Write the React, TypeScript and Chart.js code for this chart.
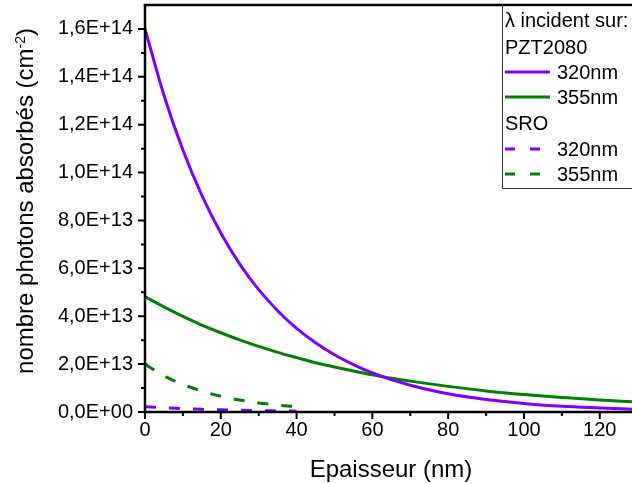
import React, { useEffect, useRef } from "react";
import { Chart, registerables } from "chart.js";

Chart.register(...registerables);

// ---- data ----
const pztThickness = [0, 5, 10, 15, 20, 25, 30, 35, 40, 45, 50, 55, 60, 65, 70, 80, 90, 100, 110, 120, 128.5];
const pzt320 = [1.6e14, 1.323e14, 1.094e14, 9.05e13, 7.48e13, 6.18e13, 5.11e13, 4.23e13, 3.49e13, 2.89e13, 2.39e13, 1.98e13, 1.63e13, 1.35e13, 1.12e13, 7.6e12, 5.2e12, 3.6e12, 2.4e12, 1.7e12, 1.2e12];
const pzt355 = [4.82e13, 4.39e13, 3.99e13, 3.63e13, 3.31e13, 3.01e13, 2.74e13, 2.49e13, 2.27e13, 2.06e13, 1.88e13, 1.71e13, 1.55e13, 1.41e13, 1.29e13, 1.07e13, 8.8e12, 7.3e12, 6.1e12, 5.0e12, 4.3e12];
const sroThickness = [0, 5, 10, 15, 20, 25, 30, 35, 40];
const sro320 = [2.2e12, 1.75e12, 1.4e12, 1.1e12, 0.9e12, 0.7e12, 0.55e12, 0.45e12, 0.35e12];
const sro355 = [2.0e13, 1.51e13, 1.15e13, 8.7e12, 6.6e12, 5.0e12, 3.8e12, 2.9e12, 2.2e12];

const xTickValues = [0, 20, 40, 60, 80, 100, 120];
const xMinorValues = [10, 30, 50, 70, 90, 110];
const yTickValues = [0, 2e13, 4e13, 6e13, 8e13, 1e14, 1.2e14, 1.4e14, 1.6e14];
const yMinorValues = [1e13, 3e13, 5e13, 7e13, 9e13, 1.1e14, 1.3e14, 1.5e14];

const legendHeader = "λ incident sur:";
const legendGroups = ["PZT2080", "SRO"];
const legendLabels = ["320nm", "355nm"];
const xTitle = "Epaisseur (nm)";
const yTitleMain = "nombre photons absorbés (cm";
const yTitleSup = "-2";
const yTitleEnd = ")";

const X_MIN = 0;
const X_MAX = 128.5;
const Y_MIN = 0;
const Y_MAX = 1.7e14;

const PURPLE = "#8000ff";
const GREEN = "#008000";
const FONT = "'Liberation Sans', Arial, sans-serif";
const DASH = [11, 13];

function fmtSci(v: number): string {
  if (v === 0) return "0,0E+00";
  const e = Math.floor(Math.log10(v) + 1e-9);
  const m = v / Math.pow(10, e);
  return m.toFixed(1).replace(".", ",") + "E+" + String(e).padStart(2, "0");
}

const pts = (xs: number[], ys: number[]) => xs.map((x, i) => ({ x, y: ys[i] }));

const decorPlugin = {
  id: "decor",
  afterDraw(chart: any) {
    const ctx = chart.ctx as CanvasRenderingContext2D;
    const { left, right, top, bottom } = chart.chartArea;
    const xs = chart.scales.x;
    const ys = chart.scales.y;
    ctx.save();
    ctx.strokeStyle = "#000";
    ctx.lineCap = "butt";
    // axis lines
    ctx.lineWidth = 2.5;
    ctx.beginPath();
    ctx.moveTo(left - 1.25, bottom);
    ctx.lineTo(right + 2, bottom);
    ctx.moveTo(left, bottom + 1.25);
    ctx.lineTo(left, top - 1);
    ctx.stroke();
    ctx.lineWidth = 2.5;
    ctx.beginPath();
    ctx.moveTo(left - 1.25, top);
    ctx.lineTo(right + 2, top);
    ctx.stroke();
    // ticks
    ctx.lineWidth = 2;
    ctx.beginPath();
    for (const v of yTickValues) {
      const p = ys.getPixelForValue(v);
      ctx.moveTo(left - 7, p);
      ctx.lineTo(left, p);
    }
    for (const v of yMinorValues) {
      const p = ys.getPixelForValue(v);
      ctx.moveTo(left - 4, p);
      ctx.lineTo(left, p);
    }
    for (const v of xTickValues) {
      const p = xs.getPixelForValue(v);
      ctx.moveTo(p, bottom);
      ctx.lineTo(p, bottom + 7);
    }
    for (const v of xMinorValues) {
      const p = xs.getPixelForValue(v);
      ctx.moveTo(p, bottom);
      ctx.lineTo(p, bottom + 4);
    }
    ctx.stroke();

    // legend box
    const bx = 502;
    const by = top;
    const bBottom = 188;
    ctx.fillStyle = "#fff";
    ctx.fillRect(bx, by + 1.5, 200, bBottom - by - 1.5);
    ctx.strokeStyle = "#333";
    ctx.lineWidth = 1;
    ctx.beginPath();
    ctx.moveTo(bx + 0.5, by);
    ctx.lineTo(bx + 0.5, bBottom + 0.5);
    ctx.lineTo(700, bBottom + 0.5);
    ctx.stroke();

    ctx.fillStyle = "#000";
    ctx.font = `20px ${FONT}`;
    ctx.textBaseline = "alphabetic";
    ctx.textAlign = "left";
    const rowBase = [27, 54, 79, 104, 130, 156, 181];
    const tx = 505;
    ctx.fillText(legendHeader, tx, rowBase[0]);
    const colors = [PURPLE, GREEN];
    const groupRows = [[1, 2, 3], [4, 5, 6]];
    legendGroups.forEach((g, gi) => {
      const [hr, r1, r2] = groupRows[gi];
      ctx.fillStyle = "#000";
      ctx.fillText(g, tx, rowBase[hr]);
      [r1, r2].forEach((r, li) => {
        const cy = rowBase[r] - 7;
        ctx.strokeStyle = colors[li];
        ctx.lineWidth = 3;
        ctx.setLineDash(gi === 1 ? [10, 15] : []);
        ctx.beginPath();
        ctx.moveTo(505, cy);
        ctx.lineTo(550, cy);
        ctx.stroke();
        ctx.setLineDash([]);
        ctx.fillStyle = "#000";
        ctx.fillText(legendLabels[li], 557, rowBase[r]);
      });
    });

    // x title
    ctx.font = `24px ${FONT}`;
    ctx.textAlign = "center";
    ctx.fillText(xTitle, 391, 477);

    // y title (rotated) with superscript
    ctx.save();
    ctx.translate(32.5, 201);
    ctx.rotate(-Math.PI / 2);
    ctx.textAlign = "left";
    ctx.font = `24px ${FONT}`;
    const w1 = ctx.measureText(yTitleMain).width;
    const w3 = ctx.measureText(yTitleEnd).width;
    ctx.font = `14px ${FONT}`;
    const w2 = ctx.measureText(yTitleSup).width;
    const total = w1 + w2 + w3;
    let cx = -total / 2;
    ctx.font = `24px ${FONT}`;
    ctx.fillText(yTitleMain, cx, 0);
    cx += w1;
    ctx.font = `14px ${FONT}`;
    ctx.fillText(yTitleSup, cx, -8);
    cx += w2;
    ctx.font = `24px ${FONT}`;
    ctx.fillText(yTitleEnd, cx, 0);
    ctx.restore();

    ctx.restore();
  },
};

export default function App() {
  const ref = useRef<HTMLCanvasElement | null>(null);
  useEffect(() => {
    if (!ref.current) return;
    const chart = new Chart(ref.current, {
      type: "line",
      data: {
        datasets: [
          { label: "PZT2080 320nm", data: pts(pztThickness, pzt320), borderColor: PURPLE, borderWidth: 3, pointRadius: 0, cubicInterpolationMode: "monotone", fill: false },
          { label: "PZT2080 355nm", data: pts(pztThickness, pzt355), borderColor: GREEN, borderWidth: 3, pointRadius: 0, cubicInterpolationMode: "monotone", fill: false },
          { label: "SRO 320nm", data: pts(sroThickness, sro320), borderColor: PURPLE, borderWidth: 3, borderDash: DASH, pointRadius: 0, cubicInterpolationMode: "monotone", fill: false },
          { label: "SRO 355nm", data: pts(sroThickness, sro355), borderColor: GREEN, borderWidth: 3, borderDash: DASH, pointRadius: 0, cubicInterpolationMode: "monotone", fill: false },
        ],
      },
      options: {
        responsive: false,
        animation: false,
        devicePixelRatio: 1,
        layout: { padding: { top: 5, right: 0, left: 0, bottom: 0 } },
        plugins: { legend: { display: false }, tooltip: { enabled: false }, title: { display: false } },
        scales: {
          x: {
            type: "linear",
            min: X_MIN,
            max: X_MAX,
            grid: { display: false, drawTicks: false },
            border: { display: false },
            ticks: { padding: 6, color: "#000", font: { size: 20, family: FONT }, maxRotation: 0, autoSkip: false },
            afterBuildTicks: (s: any) => { s.ticks = xTickValues.map((v) => ({ value: v })); },
            afterFit: (s: any) => { s.height = 72; s.paddingLeft = 0; s.paddingRight = 0; },
          },
          y: {
            type: "linear",
            min: Y_MIN,
            max: Y_MAX,
            grid: { display: false, drawTicks: false },
            border: { display: false },
            ticks: { padding: 12, color: "#000", font: { size: 20, family: FONT }, autoSkip: false, callback: (v: any) => fmtSci(Number(v)) },
            afterBuildTicks: (s: any) => { s.ticks = yTickValues.map((v) => ({ value: v })); },
            afterFit: (s: any) => { s.width = 145; s.paddingTop = 0; s.paddingBottom = 0; },
          },
        },
      },
      plugins: [decorPlugin],
    } as any);
    return () => chart.destroy();
  }, []);
  return (
    <div style={{ position: "fixed", left: 0, top: 0, width: 632, height: 484, background: "#fff" }}>
      <canvas ref={ref} width={632} height={484} style={{ display: "block" }} />
    </div>
  );
}
